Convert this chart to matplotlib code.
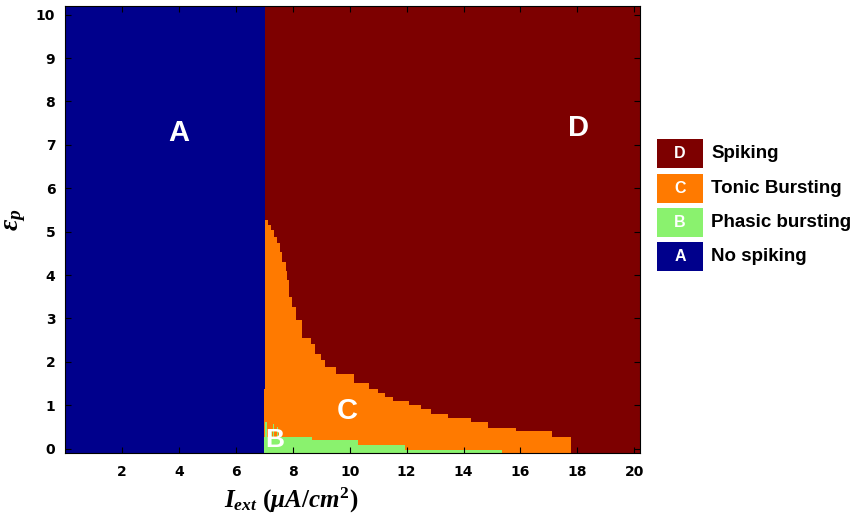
import numpy as np
import matplotlib
matplotlib.use("Agg")
import matplotlib.pyplot as plt
from matplotlib.patches import Rectangle

plt.rcParams['font.family'] = ['Liberation Sans', 'DejaVu Sans']
plt.rcParams['mathtext.fontset'] = 'custom'
plt.rcParams['mathtext.it'] = 'Liberation Serif:italic:bold'
plt.rcParams['mathtext.rm'] = 'Liberation Serif:bold'

# region colours (jet-like)
col_a = '#00008c'   # No spiking
col_b = '#8af26e'   # Phasic bursting
col_c = '#ff7a00'   # Tonic bursting
col_d = '#7d0000'   # Spiking

# A / D border
a_right = 7.04

# C region: step edges (left x of each step) and top of the orange band
c_x = [6.98, 7.04, 7.14, 7.22, 7.34, 7.45, 7.57, 7.63, 7.75, 7.80, 7.86, 7.98,
       8.10, 8.33, 8.63, 8.80, 8.98, 9.15, 9.51, 10.15, 10.68, 11.00, 11.24,
       11.53, 12.10, 12.50, 12.86, 13.45, 14.27, 14.86, 15.86, 17.10, 17.76]
c_top = [1.38, 5.28, 5.15, 5.04, 4.88, 4.73, 4.54, 4.31, 4.10, 3.88, 3.50, 3.27,
         2.96, 2.54, 2.42, 2.19, 2.04, 1.88, 1.73, 1.52, 1.38, 1.29, 1.19,
         1.10, 1.00, 0.91, 0.81, 0.71, 0.61, 0.48, 0.40, 0.27, 0.27]

# B region: steps along the bottom
b_x = [6.98, 8.68, 10.30, 11.93, 15.34]
b_top = [0.27, 0.19, 0.09, -0.02, -0.02]

# little green spikes next to the A border
spike_x = [7.04, 7.22, 7.30, 7.45]
spike_top = [0.62, 0.45, 0.57, 0.50]
spike_w = 0.05

# labels inside the map
reg_names = ['A', 'B', 'C', 'D']
reg_x = [4.0, 7.38, 9.9, 18.05]
reg_y = [7.27, 0.19, 0.86, 7.40]
reg_size = [21, 19, 21, 21]

# legend
leg_letters = ['D', 'C', 'B', 'A']
leg_labels = ['Spiking', 'Tonic Bursting', 'Phasic bursting', 'No spiking']
leg_colors = [col_d, col_c, col_b, col_a]

xmin, xmax = 0, 20.2
ymin, ymax = -0.1, 10.2

fig = plt.figure(figsize=(8.56, 5.19), dpi=100)
ax = fig.add_axes([65/856, 1-453/519, 575/856, 447/519])

ax.fill_between([xmin, xmax], ymin, ymax, color=col_d, lw=0)
ax.fill_between([xmin, a_right], ymin, ymax, color=col_a, lw=0)
ax.fill_between(c_x, ymin, c_top, step='post', color=col_c, lw=0)
ax.fill_between(b_x, ymin, b_top, step='post', color=col_b, lw=0)
ax.bar(spike_x, np.array(spike_top) - ymin, bottom=ymin, width=spike_w,
       align='edge', color=col_b, lw=0)

for n, x, y, s in zip(reg_names, reg_x, reg_y, reg_size):
    ax.text(x, y, n, color='white', fontsize=s, fontweight='bold',
            ha='center', va='center')

ax.set_xlim(xmin, xmax)
ax.set_ylim(ymin, ymax)
ax.set_xticks(np.arange(2, 21, 2))
ax.set_yticks(np.arange(0, 11, 1))
ax.tick_params(direction='in', top=True, right=True, length=4, width=0.8,
               labelsize=10)
ax.tick_params(axis='x', pad=9)
ax.tick_params(axis='y', pad=7)
for lab in ax.get_xticklabels() + ax.get_yticklabels():
    lab.set_fontweight('bold')
    lab.set_family('DejaVu Sans')
for sp in ax.spines.values():
    sp.set_linewidth(0.8)

fig.text(291/856, 1-500/519, r'$I_{ext}\ (\mu A/cm^2)$', fontsize=18,
         ha='center', va='center')
fig.text(15/856, 1-220/519, r'$\varepsilon_p$', fontsize=20, rotation=90,
         ha='center', va='center')

# manual legend
top0 = 139.5
step = 34.3
for i, (lt, lb, c) in enumerate(zip(leg_letters, leg_labels, leg_colors)):
    y0 = top0 + i * step
    fig.patches.append(Rectangle((657/856, 1-(y0+28.7)/519), 46/856, 28.7/519,
                                 transform=fig.transFigure, color=c, lw=0))
    fig.text(680/856, 1-(y0+14.3)/519, lt, color='white', fontsize=11.5,
             fontweight='bold', ha='center', va='center')
    fig.text(711/856, 1-(y0+14.3)/519, lb, color='black', fontsize=13.5,
             fontweight='bold', ha='left', va='center')

fig.savefig('out.png', dpi=100)
